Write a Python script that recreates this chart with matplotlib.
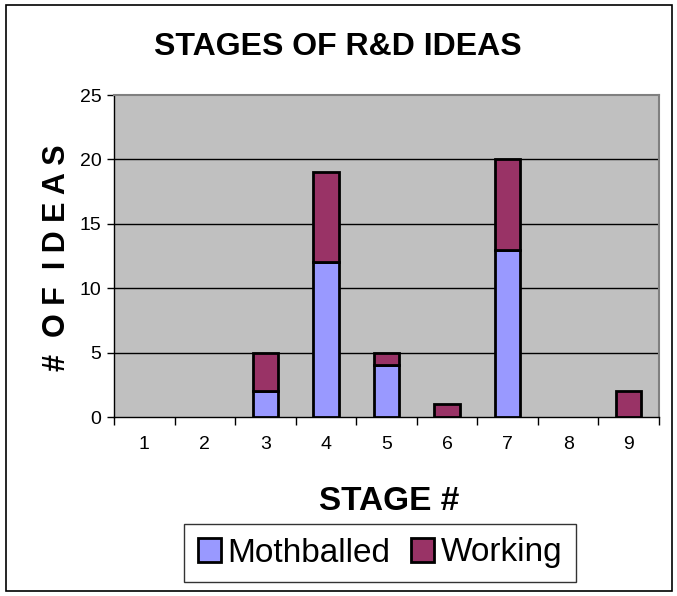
import matplotlib
matplotlib.use("Agg")
import matplotlib.pyplot as plt
from matplotlib.patches import Rectangle, Patch
import numpy as np

stages = ["1", "2", "3", "4", "5", "6", "7", "8", "9"]
mothballed = [0, 0, 2, 12, 4, 0, 13, 0, 0]
working = [0, 0, 3, 7, 1, 1, 7, 0, 2]
yticks = [0, 5, 10, 15, 20, 25]
series_names = ["Mothballed", "Working"]
series_colors = ['#9999FF', '#993366']

plt.rcParams['font.family'] = ['Liberation Sans', 'DejaVu Sans']

W, H = 677, 596
fig = plt.figure(figsize=(W/100, H/100), dpi=100)
fig.patches.append(Rectangle((6/W, 1-591/H), 666/W, 586/H, transform=fig.transFigure,
                             fill=False, edgecolor='black', linewidth=1.2))

ax = fig.add_axes([114/W, 1-417/H, 545/W, 322/H])
ax.set_facecolor('#C0C0C0')
x = np.arange(len(stages))
bw = 0.42
b1 = ax.bar(x, mothballed, bw, color=series_colors[0], edgecolor='black', linewidth=2, zorder=3)
b2 = ax.bar(x, working, bw, bottom=mothballed, color=series_colors[1], edgecolor='black', linewidth=2, zorder=3)
for bars in (b1, b2):
    for p in bars:
        if p.get_height() == 0:
            p.set_visible(False)

ax.set_xlim(-0.5, len(stages)-0.5)
ax.set_ylim(0, 25)
ax.set_yticks(yticks)
ax.set_yticklabels([str(t) for t in yticks], fontsize=14)
for t in yticks[1:-1]:
    ax.axhline(t, color='black', linewidth=1, zorder=1)
ax.set_xticks(x)
ax.set_xticklabels(stages, fontsize=14)
ax.tick_params(axis='x', length=0, pad=14)
ax.set_xticks(np.arange(-0.5, len(stages), 1), minor=True)
ax.tick_params(axis='x', which='minor', length=6, width=1, color='black')
ax.tick_params(axis='y', length=5, width=1, color='black', pad=4)
for s in ['top', 'right']:
    ax.spines[s].set_color('#808080')
    ax.spines[s].set_linewidth(1.5)
for s in ['left', 'bottom']:
    ax.spines[s].set_color('black')
    ax.spines[s].set_linewidth(1)

fig.text(338/W, 1-47/H, "STAGES OF R&D IDEAS", ha='center', va='center',
         fontsize=23, fontweight='bold')
fig.text(57/W, 1-258/H, "#  O F  I D E A S", ha='center', va='center', rotation=90,
         fontsize=22, fontweight='bold')
fig.text(389/W, 1-502/H, "STAGE #", ha='center', va='center', fontsize=24, fontweight='bold')

handles = [Patch(facecolor=c, edgecolor='black', linewidth=2, label=n)
           for n, c in zip(series_names, series_colors)]
leg = fig.legend(handles=handles, loc='center', bbox_to_anchor=(380/W, 1-553/H), ncol=2, fontsize=24,
                 frameon=True, fancybox=False, edgecolor='black', handlelength=0.7,
                 handleheight=0.7, handletextpad=0.2, columnspacing=0.6, borderpad=0.4)
leg.get_frame().set_linewidth(1)

fig.savefig("out.png", dpi=100)
